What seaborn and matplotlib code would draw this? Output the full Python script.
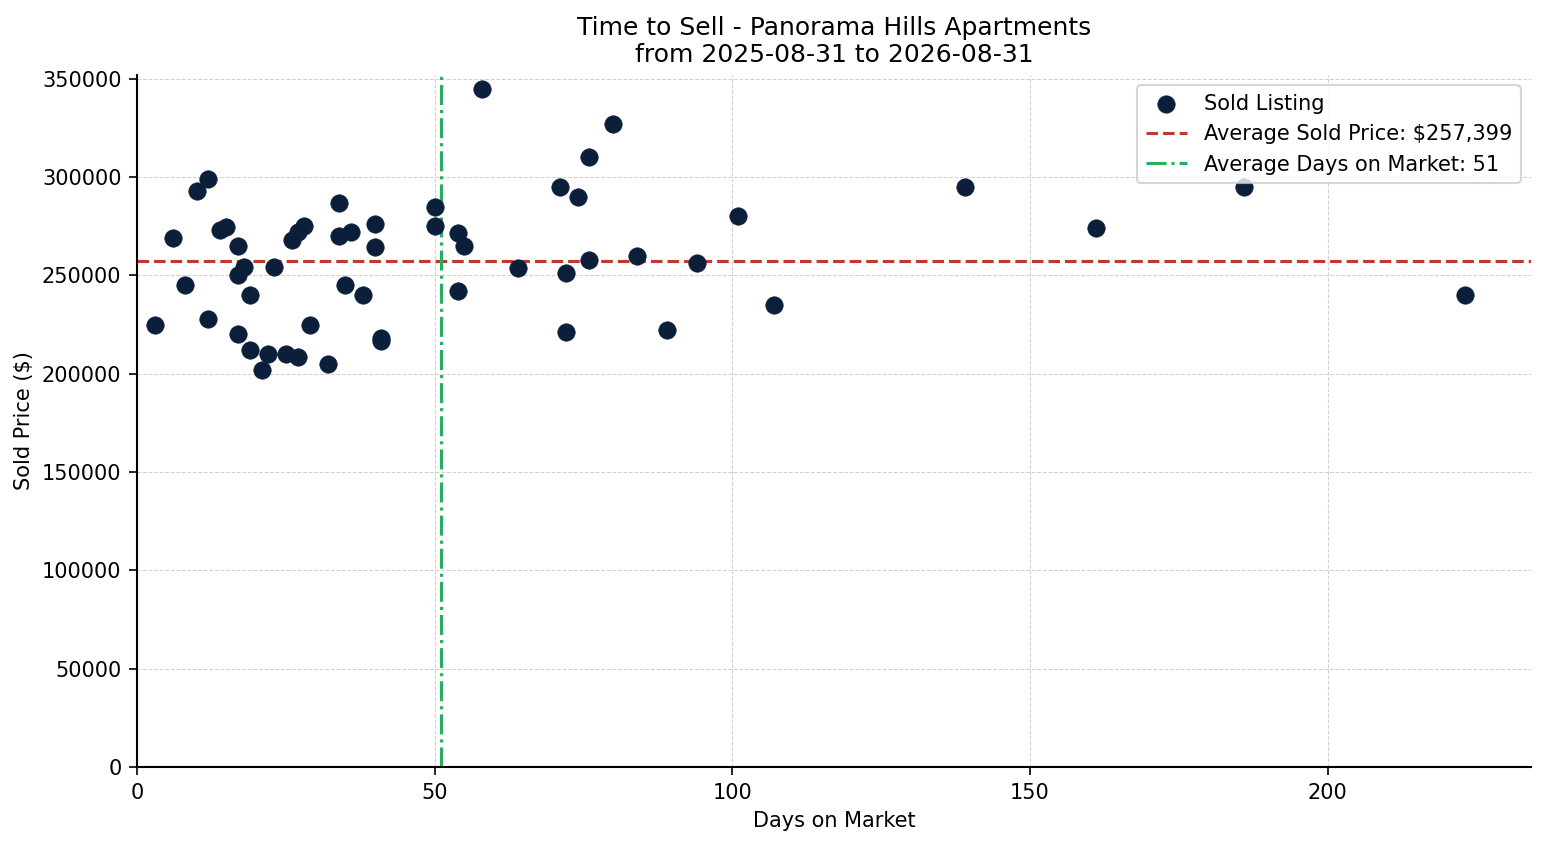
import matplotlib
matplotlib.use("Agg")
import matplotlib.pyplot as plt
import seaborn as sns
import numpy as np
import pandas as pd

days = [3, 6, 8, 10, 12, 12, 14, 15, 17, 17, 18, 17, 19, 19, 21, 22, 23, 25, 26, 27,
        28, 27, 29, 32, 34, 34, 36, 35, 38, 40, 40, 41, 41, 50, 50, 54, 55, 54, 58, 64,
        71, 74, 76, 80, 72, 76, 72, 84, 89, 94, 101, 107, 139, 161, 186, 223]
prices = [225000, 269000, 245000, 293000, 299000, 228000, 273000, 274500, 265000, 250000,
          254500, 220200, 240000, 212000, 202000, 210000, 254500, 210000, 268000, 272000,
          275000, 208500, 225000, 205000, 287044, 270000, 272000, 245000, 240000, 276000,
          264500, 218000, 216500, 285000, 275000, 271600, 265000, 242000, 345000, 254000,
          295000, 290000, 310000, 327000, 251000, 258000, 221000, 260000, 222000, 256500,
          280000, 235000, 295000, 274000, 295000, 240000]

title_line1 = "Time to Sell - Panorama Hills Apartments"
title_line2 = "from 2025-08-31 to 2026-08-31"

df = pd.DataFrame({"days": days, "price": prices})
avg_price = df["price"].mean()
avg_days = df["days"].mean()

sns.set_style("white")
plt.rcParams['font.family'] = ['DejaVu Sans']
for k in ["text.color", "axes.labelcolor", "xtick.color", "ytick.color"]:
    plt.rcParams[k] = "black"

fig, ax = plt.subplots(figsize=(1547/150, 845/150), dpi=150)
fig.subplots_adjust(left=137/1547, right=1531/1547, top=1-75/845, bottom=1-767/845)

sns.scatterplot(data=df, x="days", y="price", ax=ax, color="#0b1f3b", s=70,
                edgecolor="#0b1f3b", linewidth=0.3, label="Sold Listing", zorder=3)
ax.axhline(avg_price, color="#c0392b", linestyle="--", linewidth=1.5,
           label=f"Average Sold Price: ${avg_price:,.0f}", zorder=2)
ax.axvline(round(avg_days), color="#27ae60", linestyle="-.", linewidth=1.5,
           label=f"Average Days on Market: {avg_days:.0f}", zorder=2)

ax.set_xlim(0, max(days) * 1.05)
ax.set_ylim(0, max(prices) * 1.02)
ax.grid(True, linestyle="--", linewidth=0.5, color="#cccccc", alpha=0.9)
ax.set_axisbelow(True)
sns.despine(ax=ax)
for sp in ["left", "bottom"]:
    ax.spines[sp].set_color("black")
    ax.spines[sp].set_linewidth(1.0)
ax.tick_params(axis="both", which="both", length=4, color="black", labelcolor="black",
               labelsize=10, left=True, bottom=True)

ax.set_xlabel("Days on Market", fontsize=10)
ax.set_ylabel("Sold Price ($)", fontsize=10)
ax.set_title(f"{title_line1}\n{title_line2}", fontsize=12)
ax.legend(loc="upper right", fontsize=10, frameon=True)

fig.savefig("out.png", dpi=150)
